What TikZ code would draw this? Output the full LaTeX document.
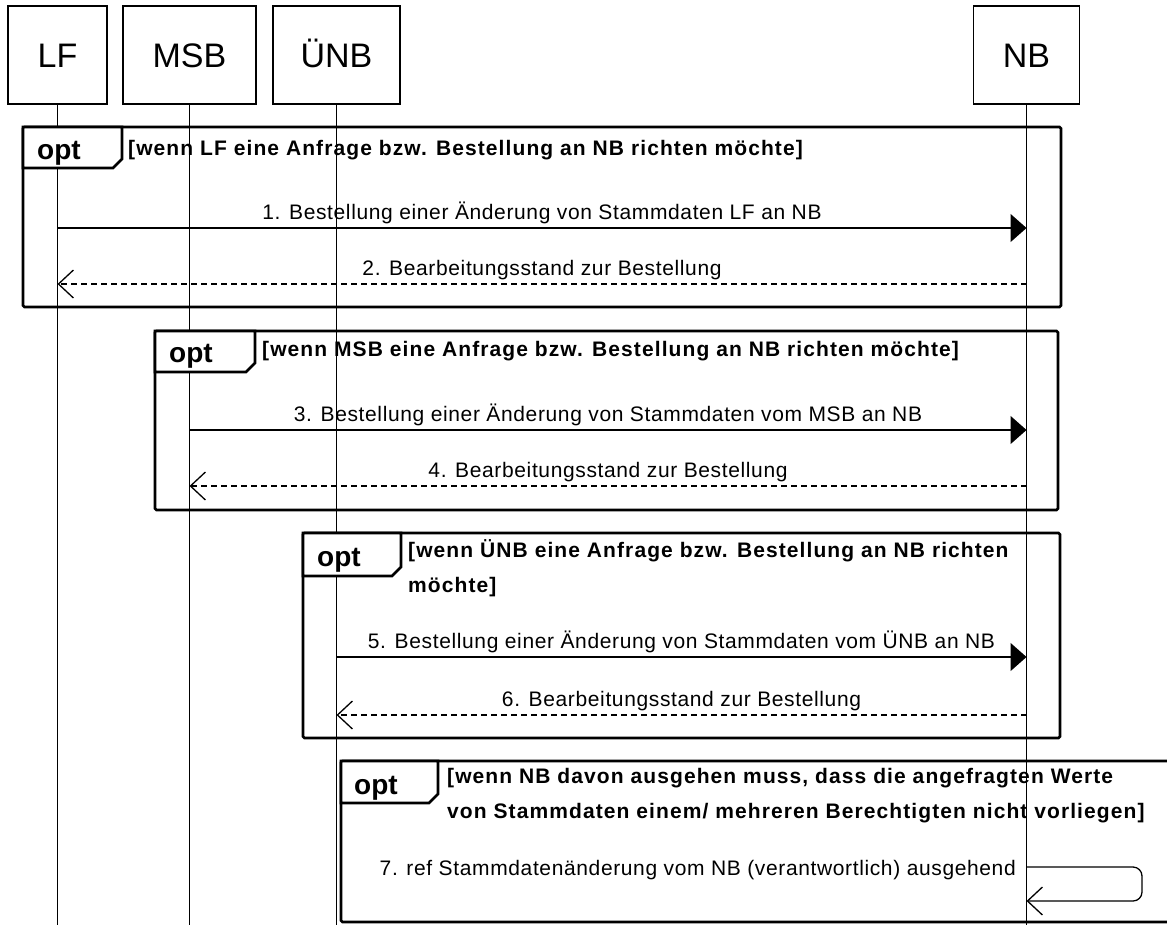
\documentclass[tikz,border=0pt]{standalone}
\usepackage{fontspec}
\setmainfont{Liberation Sans}
\newfontfamily\hdfont{Liberation Sans}
\newfontfamily\msgfont[LetterSpace=3]{Liberation Sans}
\newfontfamily\condfont[LetterSpace=5.2]{Liberation Sans}
\usetikzlibrary{arrows.meta}
\begin{document}
\begin{tikzpicture}[x=1pt,y=-1pt,
  hdr/.style={draw, line width=1.3pt, minimum height=98pt, inner sep=0pt,
    text height=24.5pt, text depth=0pt,
    font=\hdfont\fontsize{34}{40}\selectfont},
  life/.style={line width=1.3pt},
  frame/.style={line width=2.6pt, rounded corners=1.5pt},
  optlbl/.style={line width=2.6pt, fill=white},
  opttxt/.style={anchor=base west, inner sep=0pt, font=\hdfont\bfseries\fontsize{28}{32}\selectfont},
  cond/.style={anchor=base west, inner sep=0pt, align=left,
    font=\condfont\bfseries\fontsize{21}{35}\selectfont},
  msgtxt/.style={anchor=base, inner sep=0pt, yshift=8.5pt, font=\msgfont\fontsize{21}{25}\selectfont},
  sync/.style={line width=1.3pt, -{Triangle[length=16pt,width=28pt]}},
  reply/.style={line width=1.3pt, dash pattern=on 6pt off 4pt,
    -{Straight Barb[length=15pt,width=28pt,line width=1.3pt]}},
  selfmsg/.style={line width=1.3pt, rounded corners=9pt,
    -{Straight Barb[length=15pt,width=28pt,line width=1.3pt]}}
]
\useasboundingbox (0,0) rectangle (1167,924);
\clip (0,0) rectangle (1167,924);
\fill[white] (0,0) rectangle (1167,924);

% participants
\node[hdr, minimum width=99pt]  (LF)  at (57.5,55) {LF};
\node[hdr, minimum width=133pt] (MSB) at (189.5,55) {MSB};
\node[hdr, minimum width=127pt] (UNB) at (336.5,55) {ÜNB};
\node[hdr, minimum width=106pt] (NB)  at (1026.5,55) {NB};

\coordinate (bot) at (0,930);
\draw[life] (LF.south)  -- (LF.south |- bot);
\draw[life] (MSB.south) -- (MSB.south |- bot);
\draw[life] (UNB.south) -- (UNB.south |- bot);
\draw[life] (NB.south)  -- (NB.south |- bot);

% opt 1
\draw[frame] (23,127) rectangle (1061,307);
\draw[optlbl] (23,127) -- (122,127) -- (122,159) -- (113,168) -- (23,168) -- cycle;
\node[opttxt] (o1) at (37,159) {opt};
\node[cond] (c1) at (128,155) {[wenn LF eine Anfrage bzw. Bestellung an NB richten möchte]};

\coordinate (y1) at (0,228);
\coordinate (y2) at (0,284);
\draw[sync] (LF.south |- y1) -- (NB.south |- y1)
  node[msgtxt, midway] (t1) {1. Bestellung einer Änderung von Stammdaten LF an NB};
\draw[reply] (NB.south |- y2) -- (LF.south |- y2)
  node[msgtxt, midway] (t2) {2. Bearbeitungsstand zur Bestellung};

% opt 2
\draw[frame] (155,331) rectangle (1058,510);
\draw[optlbl] (155,331) -- (255,331) -- (255,363) -- (246,372) -- (155,372) -- cycle;
\node[opttxt] (o2) at (169,362) {opt};
\node[cond] (c2) at (262,356) {[wenn MSB eine Anfrage bzw. Bestellung an NB richten möchte]};

\coordinate (y3) at (0,430);
\coordinate (y4) at (0,486);
\draw[sync] (MSB.south |- y3) -- (NB.south |- y3)
  node[msgtxt, midway] (t3) {3. Bestellung einer Änderung von Stammdaten vom MSB an NB};
\draw[reply] (NB.south |- y4) -- (MSB.south |- y4)
  node[msgtxt, midway] (t4) {4. Bearbeitungsstand zur Bestellung};

% opt 3
\draw[frame] (303,533) rectangle (1060,738);
\draw[optlbl] (303,533) -- (401,533) -- (401,567) -- (392,576) -- (303,576) -- cycle;
\node[opttxt] (o3) at (317,566) {opt};
\node[cond] (c3) at (408,592) {[wenn ÜNB eine Anfrage bzw. Bestellung an NB richten\\möchte]};

\coordinate (y5) at (0,657);
\coordinate (y6) at (0,715);
\draw[sync] (UNB.south |- y5) -- (NB.south |- y5)
  node[msgtxt, midway] (t5) {5. Bestellung einer Änderung von Stammdaten vom ÜNB an NB};
\draw[reply] (NB.south |- y6) -- (UNB.south |- y6)
  node[msgtxt, midway] (t6) {6. Bearbeitungsstand zur Bestellung};

% opt 4
\draw[frame] (341,761) rectangle (1190,922);
\draw[optlbl] (341,761) -- (438,761) -- (438,794) -- (429,803) -- (341,803) -- cycle;
\node[opttxt] (o4) at (354,794) {opt};
\node[cond] (c4) at (447,818) {[wenn NB davon ausgehen muss, dass die angefragten Werte\\von Stammdaten einem/ mehreren Berechtigten nicht vorliegen]};

\coordinate (y7) at (0,867);
\coordinate (y7b) at (0,901);
\coordinate (s7) at (1142,884);
\draw[selfmsg] (NB.south |- y7) -- (s7 |- y7) -- (s7 |- y7b) -- (NB.south |- y7b);
\node[anchor=base east, inner sep=0pt, font=\msgfont\fontsize{21}{25}\selectfont] (t7)
  at (1016,875) {7. ref Stammdatenänderung vom NB (verantwortlich) ausgehend};
\end{tikzpicture}
\end{document}
